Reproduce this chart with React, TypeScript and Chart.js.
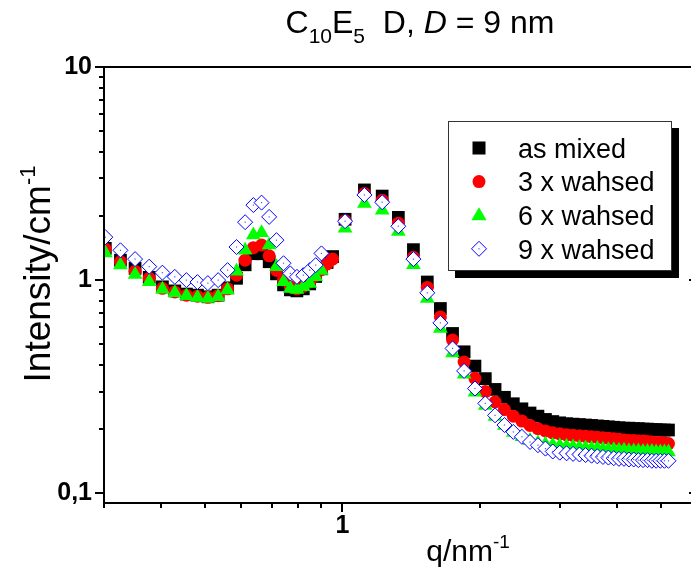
import React, { useEffect, useRef } from 'react';
import { Chart, registerables } from 'chart.js';

Chart.register(...registerables);

const FONT = "'Liberation Sans', Arial, Helvetica, sans-serif";

// scattering vector q / nm^-1 (two merged ranges)
const q = [
  0.302, 0.326, 0.351, 0.377, 0.403, 0.429, 0.455, 0.481, 0.507, 0.534, 0.560, 0.586, 0.612,
  0.638, 0.665, 0.691, 0.717, 0.743, 0.769, 0.795, 0.821, 0.848, 0.874, 0.900, 0.926, 0.952,
  1.014, 1.118, 1.223, 1.327, 1.432, 1.536, 1.641, 1.745, 1.850, 1.954, 2.059, 2.163, 2.268,
  2.372, 2.477, 2.581, 2.686, 2.790, 2.895, 2.999, 3.104, 3.208, 3.313, 3.417, 3.522, 3.626,
  3.731, 3.835, 3.940, 4.044, 4.149, 4.253, 4.358, 4.462, 4.567, 4.671, 4.776, 4.880, 4.985,
  5.089, 5.194,
];

const asMixed = [
  1.41, 1.24, 1.135, 1.03, 0.93, 0.89, 0.86, 0.85, 0.835, 0.85, 0.92, 1.02, 1.18,
  1.33, 1.33, 1.22, 1.07, 0.95, 0.90, 0.89, 0.91, 0.96, 1.04, 1.13, 1.21, 1.29,
  1.93, 2.65, 2.48, 1.97, 1.39, 0.98, 0.736, 0.562, 0.461, 0.395, 0.345, 0.307, 0.282,
  0.263, 0.249, 0.238, 0.230, 0.222, 0.217, 0.214, 0.212, 0.211, 0.210, 0.209, 0.208, 0.207,
  0.206, 0.205, 0.204, 0.203, 0.202, 0.202, 0.201, 0.201, 0.200, 0.200, 0.199, 0.199, 0.198,
  0.198, 0.198,
];

const washed3 = [
  1.40, 1.22, 1.10, 1.02, 0.915, 0.88, 0.85, 0.84, 0.83, 0.845, 0.91, 1.055, 1.24,
  1.42, 1.46, 1.30, 1.11, 1.0, 0.93, 0.91, 0.935, 0.98, 1.05, 1.12, 1.19, 1.255,
  1.90, 2.55, 2.37, 1.85, 1.28, 0.924, 0.672, 0.523, 0.413, 0.346, 0.300, 0.268, 0.247,
  0.230, 0.218, 0.208, 0.201, 0.196, 0.192, 0.190, 0.188, 0.187, 0.186, 0.185, 0.184, 0.183,
  0.182, 0.181, 0.180, 0.179, 0.178, 0.177, 0.177, 0.176, 0.176, 0.175, 0.174, 0.173, 0.173,
  0.172, 0.171,
];

const washed6 = [
  1.34, 1.176, 1.064, 0.982, 0.907, 0.872, 0.844, 0.829, 0.820, 0.835, 0.898, 1.10, 1.38,
  1.63, 1.67, 1.46, 1.155, 0.982, 0.914, 0.904, 0.930, 0.965, 1.036, 1.11, null, null,
  1.75, 2.29, 2.13, 1.69, 1.18, 0.82, 0.593, 0.455, 0.362, 0.298, 0.258, 0.229, 0.208,
  0.193, 0.184, 0.177, 0.172, 0.170, 0.168, 0.167, 0.166, 0.165, 0.164, 0.163, 0.162, 0.162,
  0.161, 0.160, 0.160, 0.159, 0.159, 0.158, 0.158, 0.158, 0.157, 0.157, 0.157, 0.156, 0.156,
  0.156, 0.156,
];

const washed9 = [
  1.59, 1.38, 1.255, 1.157, 1.084, 1.036, 1.0, 0.979, 0.968, 1.0, 1.114, 1.43, 1.87,
  2.25, 2.31, 1.98, 1.54, 1.20, 1.075, 1.036, 1.055, 1.114, 1.176, 1.335, null, null,
  1.89, 2.51, 2.32, 1.79, 1.255, 0.872, 0.630, 0.478, 0.375, 0.310, 0.264, 0.232, 0.209,
  0.194, 0.184, 0.174, 0.168, 0.162, 0.157, 0.155, 0.154, 0.153, 0.152, 0.151, 0.150, 0.149,
  0.148, 0.147, 0.146, 0.145, 0.145, 0.144, 0.144, 0.143, 0.143, 0.143, 0.142, 0.142, 0.142,
  0.142, 0.142,
];

const seriesLabels = ['as mixed', '3 x wahsed', '6 x wahsed', '9 x wahsed'];
const seriesColors = ['#000000', '#ff0000', '#00ff00', '#0000ff'];

const yMajorTicks = [0.1, 1, 10];
const yTickLabels = ['0,1', '1', '10'];
const yMinorTicks = [0.2, 0.3, 0.4, 0.5, 0.6, 0.7, 0.8, 0.9, 2, 3, 4, 5, 6, 7, 8, 9];
const xMajorTicks = [1];
const xTickLabels = ['1'];
const xMinorTicks = [0.3, 0.4, 0.5, 0.6, 0.7, 0.8, 0.9, 2, 3, 4, 5];

type Run = { t: string; size: number; dy?: number; italic?: boolean };

function fontOf(r: Run) {
  return `${r.italic ? 'italic ' : ''}${r.size}px ${FONT}`;
}
function runsWidth(ctx: CanvasRenderingContext2D, runs: Run[]) {
  let w = 0;
  for (const r of runs) {
    ctx.font = fontOf(r);
    w += ctx.measureText(r.t).width;
  }
  return w;
}
function drawRuns(ctx: CanvasRenderingContext2D, runs: Run[], x: number, y: number) {
  let cx = x;
  ctx.textAlign = 'left';
  ctx.textBaseline = 'alphabetic';
  for (const r of runs) {
    ctx.font = fontOf(r);
    ctx.fillText(r.t, cx, y + (r.dy || 0));
    cx += ctx.measureText(r.t).width;
  }
}

const titleRuns: Run[] = [
  { t: 'C', size: 32 },
  { t: '10', size: 21, dy: 10 },
  { t: 'E', size: 32 },
  { t: '5', size: 21, dy: 10 },
  { t: '  D, ', size: 32 },
  { t: 'D', size: 32, italic: true },
  { t: ' = 9 nm', size: 32 },
];
const xTitleRuns: Run[] = [
  { t: 'q/nm', size: 30 },
  { t: '-1', size: 19, dy: -13 },
];
const yTitleRuns: Run[] = [
  { t: 'Intensity/cm', size: 37 },
  { t: '-1', size: 22, dy: -15 },
];

function toPoints(values: (number | null)[]) {
  return q
    .map((x, i) => ({ x, y: values[i] }))
    .filter((p) => p.y !== null) as { x: number; y: number }[];
}

function drawMarker(ctx: CanvasRenderingContext2D, kind: number, x: number, y: number) {
  ctx.save();
  ctx.beginPath();
  if (kind === 0) {
    ctx.fillStyle = seriesColors[0];
    ctx.fillRect(x - 6.5, y - 6.5, 13, 13);
  } else if (kind === 1) {
    ctx.fillStyle = seriesColors[1];
    ctx.arc(x, y, 6.5, 0, Math.PI * 2);
    ctx.fill();
  } else if (kind === 2) {
    ctx.fillStyle = seriesColors[2];
    ctx.moveTo(x, y - 8);
    ctx.lineTo(x + 7.6, y + 5);
    ctx.lineTo(x - 7.6, y + 5);
    ctx.closePath();
    ctx.fill();
  } else {
    ctx.fillStyle = '#ffffff';
    ctx.strokeStyle = seriesColors[3];
    ctx.lineWidth = 1;
    ctx.moveTo(x - 7.5, y);
    ctx.lineTo(x, y - 7.5);
    ctx.lineTo(x + 7.5, y);
    ctx.lineTo(x, y + 7.5);
    ctx.closePath();
    ctx.fill();
    ctx.stroke();
  }
  ctx.restore();
}

const framePlugin = {
  id: 'originFrame',
  afterDatasetsDraw(chart: any) {
    const ctx: CanvasRenderingContext2D = chart.ctx;
    const { left, right, top, bottom } = chart.chartArea;
    const meta = chart.getDatasetMeta(3);
    ctx.save();
    ctx.beginPath();
    ctx.rect(left, top, right - left, bottom - top);
    ctx.clip();
    ctx.fillStyle = '#5050ff';
    for (const el of meta.data) {
      ctx.fillRect(el.x - 0.6, el.y - 0.6, 1.2, 1.2);
    }
    ctx.restore();
  },
  afterDraw(chart: any) {
    const ctx: CanvasRenderingContext2D = chart.ctx;
    const { left, right, top, bottom } = chart.chartArea;
    const xs = chart.scales.x;
    const ys = chart.scales.y;
    ctx.save();
    ctx.strokeStyle = '#000';
    ctx.lineWidth = 2;
    const line = (x1: number, y1: number, x2: number, y2: number) => {
      ctx.beginPath();
      ctx.moveTo(x1, y1);
      ctx.lineTo(x2, y2);
      ctx.stroke();
    };
    // frame (right axis lies just beyond the picture edge)
    line(left, top, left, bottom + 1);
    line(left - 1, bottom, right, bottom);
    line(left - 1, top, right, top);
    // y ticks
    for (const v of yMajorTicks) {
      const y = Math.round(ys.getPixelForValue(v));
      line(left - 9, y, left, y);
      line(right - 2, y, right, y);
    }
    for (const v of yMinorTicks) {
      const y = Math.round(ys.getPixelForValue(v));
      line(left - 5, y, left, y);
    }
    // x ticks
    for (const v of xMajorTicks) {
      const x = Math.round(xs.getPixelForValue(v));
      line(x, bottom, x, bottom + 9);
    }
    for (const v of xMinorTicks) {
      const x = Math.round(xs.getPixelForValue(v));
      line(x, bottom, x, bottom + 5);
    }
    ctx.restore();

    // titles
    ctx.save();
    ctx.fillStyle = '#000';
    const tw = runsWidth(ctx, titleRuns);
    drawRuns(ctx, titleRuns, 420 - tw / 2, 33);
    const xw = runsWidth(ctx, xTitleRuns);
    drawRuns(ctx, xTitleRuns, 468 - xw / 2, 561);
    ctx.translate(50, 274);
    ctx.rotate(-Math.PI / 2);
    const yw = runsWidth(ctx, yTitleRuns);
    drawRuns(ctx, yTitleRuns, -yw / 2, 0);
    ctx.restore();

    // legend
    ctx.save();
    ctx.fillStyle = '#000';
    ctx.fillRect(455, 128, 224, 150);
    ctx.fillStyle = '#fff';
    ctx.fillRect(448, 121, 224, 150);
    ctx.strokeStyle = '#333';
    ctx.lineWidth = 1;
    ctx.strokeRect(448.5, 121.5, 223, 149);
    ctx.textAlign = 'left';
    ctx.textBaseline = 'alphabetic';
    seriesLabels.forEach((lab, i) => {
      const cy = 148 + i * 33.6;
      drawMarker(ctx, i, 479, cy);
      if (i === 3) {
        ctx.fillStyle = '#5050ff';
        ctx.fillRect(478.4, cy - 0.6, 1.2, 1.2);
      }
      ctx.fillStyle = '#000';
      ctx.font = `27px ${FONT}`;
      ctx.fillText(lab, 518, cy + 9.7);
    });
    ctx.restore();
  },
};

export default function App() {
  const ref = useRef<HTMLCanvasElement | null>(null);
  useEffect(() => {
    if (!ref.current) return;
    const chart = new Chart(ref.current, {
      type: 'scatter',
      data: {
        datasets: [
          {
            label: seriesLabels[0],
            data: toPoints(asMixed),
            pointStyle: 'rect',
            pointRadius: 9,
            backgroundColor: seriesColors[0],
            borderColor: seriesColors[0],
            borderWidth: 0,
            showLine: false,
            order: 4,
          },
          {
            label: seriesLabels[1],
            data: toPoints(washed3),
            pointStyle: 'circle',
            pointRadius: 6.5,
            backgroundColor: seriesColors[1],
            borderColor: seriesColors[1],
            borderWidth: 0,
            showLine: false,
            order: 3,
          },
          {
            label: seriesLabels[2],
            data: toPoints(washed6),
            pointStyle: 'triangle',
            pointRadius: 8.5,
            backgroundColor: seriesColors[2],
            borderColor: seriesColors[2],
            borderWidth: 0,
            showLine: false,
            order: 2,
          },
          {
            label: seriesLabels[3],
            data: toPoints(washed9),
            pointStyle: 'rectRot',
            pointRadius: 7.5,
            backgroundColor: '#ffffff',
            borderColor: seriesColors[3],
            borderWidth: 1,
            showLine: false,
            order: 1,
          },
        ],
      },
      options: {
        responsive: false,
        animation: false,
        events: [],
        layout: { autoPadding: false, padding: { top: 67, left: 0, right: 0, bottom: 0 } },
        plugins: {
          legend: { display: false },
          title: { display: false },
          tooltip: { enabled: false },
        },
        scales: {
          x: {
            type: 'logarithmic',
            position: 'bottom',
            min: 0.3,
            max: 5.82,
            bounds: 'data',
            grid: { display: false, drawTicks: false },
            border: { display: false },
            ticks: {
              autoSkip: false,
              maxRotation: 0,
              padding: 8,
              color: '#000',
              font: { family: FONT, size: 25, weight: 'bold' },
              callback: (v: any) => {
                const k = xMajorTicks.indexOf(Number(v));
                return k >= 0 ? xTickLabels[k] : '';
              },
            },
            afterBuildTicks: (s: any) => {
              s.ticks = xMajorTicks.map((v) => ({ value: v }));
            },
            afterFit: (s: any) => {
              s.height = 71;
              s.paddingLeft = 0;
              s.paddingRight = 0;
            },
          },
          y: {
            type: 'logarithmic',
            position: 'left',
            min: 0.09,
            max: 10,
            bounds: 'data',
            grid: { display: false, drawTicks: false },
            border: { display: false },
            ticks: {
              autoSkip: false,
              padding: 12,
              color: '#000',
              font: { family: FONT, size: 25, weight: 'bold' },
              callback: (v: any) => {
                const k = yMajorTicks.indexOf(Number(v));
                return k >= 0 ? yTickLabels[k] : '';
              },
            },
            afterBuildTicks: (s: any) => {
              s.ticks = yMajorTicks.map((v) => ({ value: v }));
            },
            afterFit: (s: any) => {
              s.width = 104;
              s.paddingTop = 0;
              s.paddingBottom = 0;
            },
          },
        },
      } as any,
      plugins: [framePlugin],
    });
    return () => chart.destroy();
  }, []);

  return (
    <div
      style={{
        position: 'fixed',
        left: 0,
        top: 0,
        width: 691,
        height: 574,
        overflow: 'hidden',
        background: '#fff',
      }}
    >
      <canvas ref={ref} width={691} height={574} style={{ display: 'block' }} />
    </div>
  );
}
